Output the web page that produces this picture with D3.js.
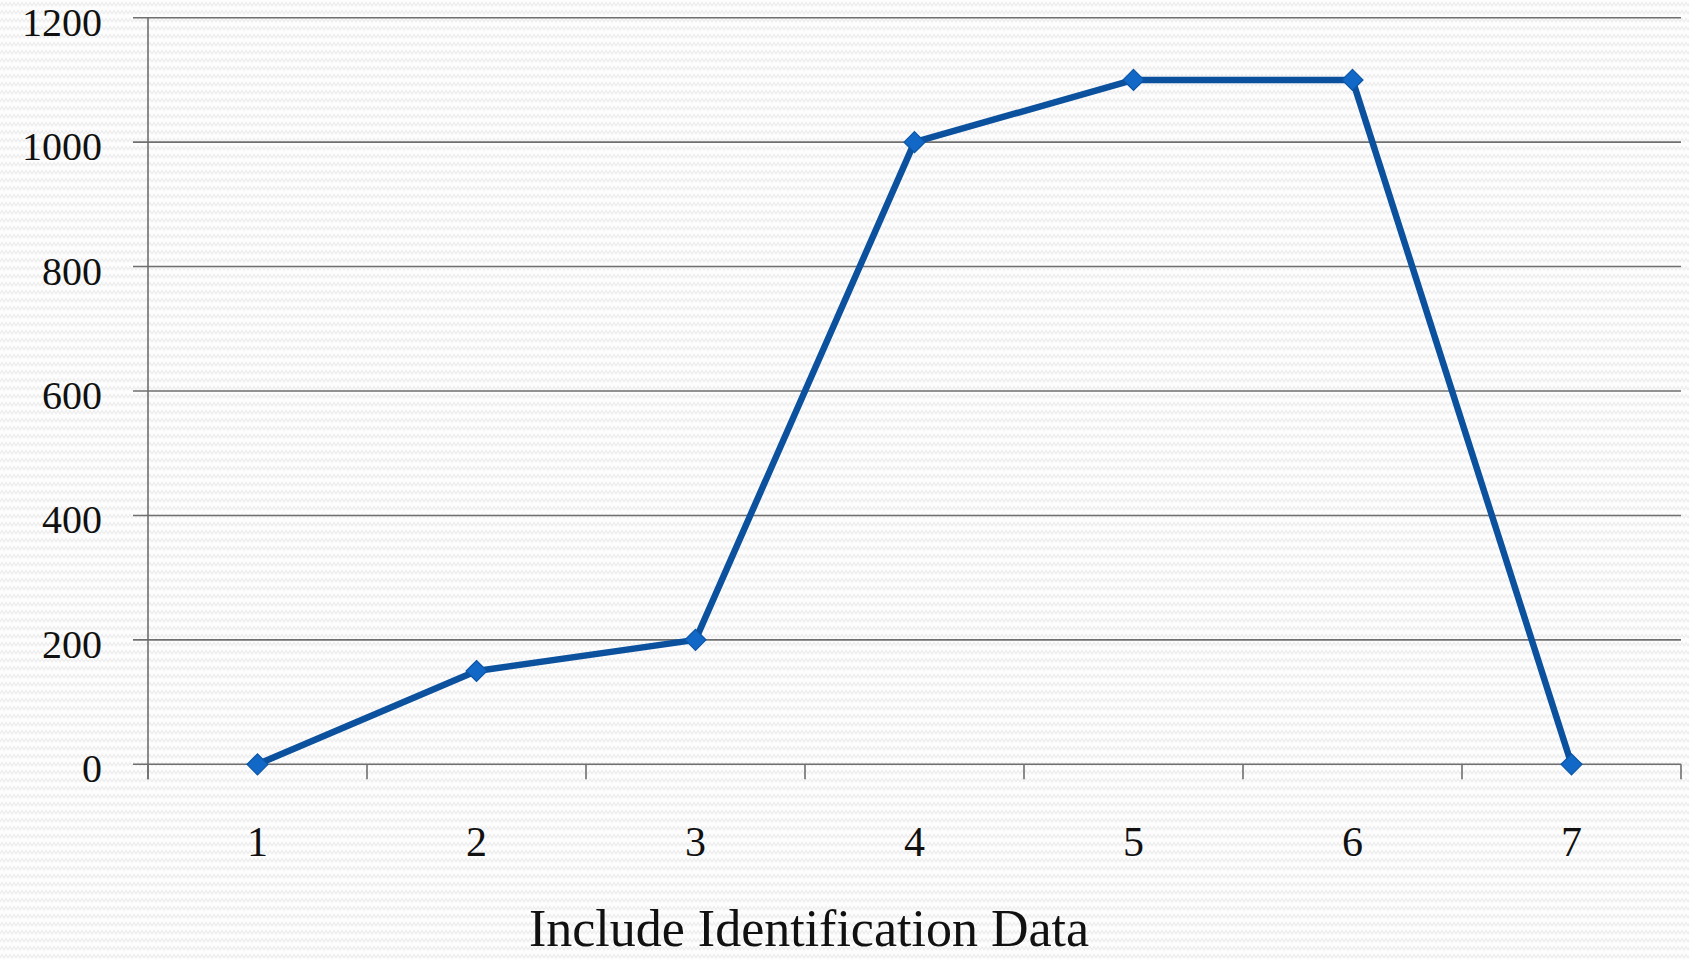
<!DOCTYPE html>
<html>
<head>
<meta charset="utf-8">
<script src="https://cdn.jsdelivr.net/npm/d3@7"></script>
<style>
  html, body { margin: 0; padding: 0; background: #ffffff; }
  svg { display: block; }
  text { font-family: "Liberation Serif", "DejaVu Serif", serif; fill: #111; }
</style>
</head>
<body>
<script>
const categories = ["1", "2", "3", "4", "5", "6", "7"];
const values = [0, 150, 200, 1000, 1100, 1100, 0];
const yTicks = [0, 200, 400, 600, 800, 1000, 1200];
const xTitle = "Include Identification Data";

const W = 1689, H = 959;
const svg = d3.select("body").append("svg").attr("width", W).attr("height", H);

// background texture
const defs = svg.append("defs");
const pat = defs.append("pattern").attr("id", "zig").attr("patternUnits", "userSpaceOnUse")
  .attr("width", 8).attr("height", 8);
pat.append("rect").attr("width", 8).attr("height", 8).attr("fill", "#fdfdfd");
pat.append("path").attr("d", "M0,6 L2,2.5 L4,6 L6,2.5 L8,6")
  .attr("fill", "none").attr("stroke", "#ededed").attr("stroke-width", 1.2);
svg.append("rect").attr("width", W).attr("height", H).attr("fill", "url(#zig)");

const x = d3.scaleBand().domain(categories).range([148, 1681]).padding(0);
const y = d3.scaleLinear().domain([0, 1200]).range([764.3, 17.7]);

const gridColor = "#6f6f6f";

// gridlines + y tick marks
svg.append("g").selectAll("line").data(yTicks).join("line")
  .attr("x1", 133).attr("x2", 1681)
  .attr("y1", d => y(d)).attr("y2", d => y(d))
  .attr("stroke", gridColor).attr("stroke-width", 1.6);

// y axis line
svg.append("line").attr("x1", 148).attr("x2", 148)
  .attr("y1", y(1200)).attr("y2", y(0) + 15)
  .attr("stroke", gridColor).attr("stroke-width", 1.6);

// x tick marks at category boundaries
const bounds = categories.map(c => x(c)).concat([x(categories[categories.length - 1]) + x.bandwidth()]);
svg.append("g").selectAll("line").data(bounds).join("line")
  .attr("x1", d => d).attr("x2", d => d)
  .attr("y1", y(0)).attr("y2", y(0) + 15)
  .attr("stroke", gridColor).attr("stroke-width", 1.6);

// y labels
svg.append("g").selectAll("text").data(yTicks).join("text")
  .attr("x", 102).attr("y", d => y(d) + 18)
  .attr("text-anchor", "end")
  .attr("font-size", 40)
  .text(d => d);

// x labels
svg.append("g").selectAll("text").data(categories).join("text")
  .attr("x", d => x(d) + x.bandwidth() / 2).attr("y", 856)
  .attr("text-anchor", "middle")
  .attr("font-size", 42)
  .text(d => d);

// x title
svg.append("text").attr("x", 809).attr("y", 946)
  .attr("text-anchor", "middle").attr("font-size", 52)
  .text(xTitle);

// line
const pts = categories.map((c, i) => [x(c) + x.bandwidth() / 2, y(values[i])]);
svg.append("path").attr("d", d3.line()(pts))
  .attr("fill", "none").attr("stroke", "#0b519e").attr("stroke-width", 6.5)
  .attr("stroke-linejoin", "round");

// markers
svg.append("g").selectAll("path").data(pts).join("path")
  .attr("transform", d => `translate(${d[0]},${d[1]})`)
  .attr("d", "M0,-10.5 L10.5,0 L0,10.5 L-10.5,0 Z")
  .attr("fill", "#1268c6").attr("stroke", "#0b55a5").attr("stroke-width", 1.2);
</script>
</body>
</html>
